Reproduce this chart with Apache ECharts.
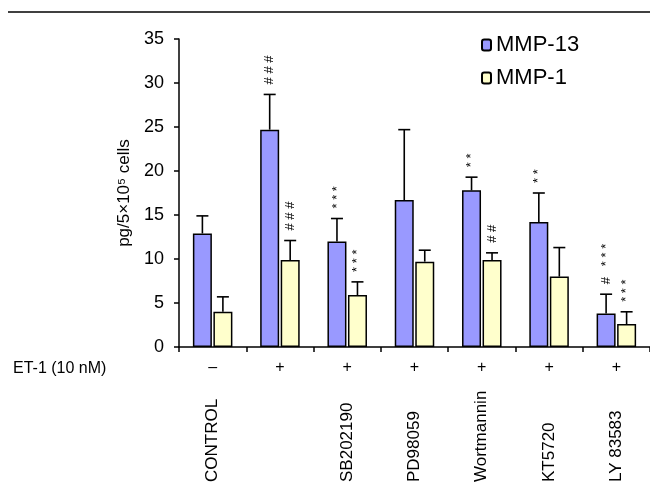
<!DOCTYPE html>
<html>
<head>
<meta charset="utf-8">
<script src="https://cdn.jsdelivr.net/npm/echarts@6/dist/echarts.min.js"></script>
<style>
html,body{margin:0;padding:0;background:#fff;}
#chart{width:650px;height:485px;}
</style>
</head>
<body>
<div id="chart"></div>
<script>
// ---- data ----
const categories = ['CONTROL', '', 'SB202190', 'PD98059', 'Wortmannin', 'KT5720', 'LY 83583'];
const et1Signs = ['\u2013', '+', '+', '+', '+', '+', '+'];
const mmp13 = [12.9, 24.7, 12.0, 16.7, 17.8, 14.2, 3.8];
const mmp13Err = [2.0, 4.0, 2.6, 8.0, 1.5, 3.3, 2.2];
const mmp1 = [4.0, 9.9, 5.9, 9.7, 9.9, 8.0, 2.6];
const mmp1Err = [1.7, 2.2, 1.5, 1.3, 0.8, 3.3, 1.4];
const mmp13Marks = ['', '# # #', '* * *', '', '* *', '* *', '#   * * *'];
const mmp1Marks = ['', '# # #', '* * *', '', '# #', '', '* * *'];
const yTicks = {min: 0, max: 35, interval: 5};

const FONT = '"Liberation Sans", Arial, Helvetica, sans-serif';
const BAR_W = 19;
const HALF_STEP = 10.25;

function errRenderer(marks, side) {
  return function (params, api) {
    const i = api.value(0), v = api.value(1), e = api.value(2);
    const base = api.coord([i, v]);
    const top = api.coord([i, v + e]);
    const x = base[0] + side * HALF_STEP;
    const children = [
      {type: 'line', shape: {x1: x, y1: base[1], x2: x, y2: top[1]},
       style: {stroke: '#000', lineWidth: 1.6}},
      {type: 'line', shape: {x1: x - 6, y1: top[1], x2: x + 6, y2: top[1]},
       style: {stroke: '#000', lineWidth: 1.6}}
    ];
    const m = marks[i];
    if (m) {
      children.push({
        type: 'text', x: x, y: top[1] - 10, rotation: Math.PI / 2,
        style: {text: m, fill: '#000', font: '13px ' + FONT,
                align: 'left', verticalAlign: 'middle'}
      });
    }
    return {type: 'group', children: children};
  };
}

const chart = echarts.init(document.getElementById('chart'), null, {renderer: 'canvas'});
chart.setOption({
  animation: false,
  backgroundColor: '#fff',
  textStyle: {fontFamily: FONT},
  grid: {left: 179, top: 39, width: 474, height: 310},
  legend: {
    orient: 'vertical', left: 481, top: 34, padding: 0, itemWidth: 9, itemHeight: 11, itemGap: 11,
    data: ['MMP-13', 'MMP-1'],
    textStyle: {fontSize: 22, color: '#000', fontFamily: FONT}
  },
  xAxis: [{
    type: 'category', data: categories, position: 'bottom',
    axisLine: {lineStyle: {color: '#000', width: 1.5}},
    axisTick: {show: true, length: 5, lineStyle: {color: '#000', width: 1.5}},
    axisLabel: {
      margin: 13, fontSize: 16, color: '#000', fontFamily: FONT, interval: 0,
      formatter: function (val, idx) { return et1Signs[idx]; }
    }
  }, {
    type: 'category', data: categories, position: 'bottom',
    axisLine: {show: false}, axisTick: {show: false},
    axisLabel: {
      rotate: 90, margin: 135, fontSize: 17, color: '#000', fontFamily: FONT, interval: 0,
      align: 'left', verticalAlign: 'middle'
    }
  }],
  yAxis: {
    type: 'value', min: yTicks.min, max: yTicks.max, interval: yTicks.interval,
    name: 'pg/5\u00d710\u2075 cells', nameLocation: 'middle', nameGap: 45,
    nameTextStyle: {fontSize: 17, color: '#000', fontFamily: FONT},
    axisLine: {show: true, lineStyle: {color: '#000', width: 1.5}},
    axisTick: {show: true, length: 5, lineStyle: {color: '#000', width: 1.5}},
    axisLabel: {fontSize: 18, color: '#000', margin: 15, fontFamily: FONT},
    splitLine: {show: false}
  },
  series: [{
    name: 'MMP-13', type: 'bar', data: mmp13, barWidth: BAR_W, barGap: '8%',
    itemStyle: {color: '#9999FF', borderColor: '#000', borderWidth: 1.5}
  }, {
    name: 'MMP-1', type: 'bar', data: mmp1, barWidth: BAR_W, barGap: '8%',
    itemStyle: {color: '#FFFFCC', borderColor: '#000', borderWidth: 1.5}
  }, {
    type: 'custom', z: 5, silent: true,
    renderItem: errRenderer(mmp13Marks, -1),
    data: mmp13.map(function (v, i) { return [i, v, mmp13Err[i]]; })
  }, {
    type: 'custom', z: 5, silent: true,
    renderItem: errRenderer(mmp1Marks, 1),
    data: mmp1.map(function (v, i) { return [i, v, mmp1Err[i]]; })
  }],
  graphic: [
    {type: 'line', shape: {x1: 8, y1: 12, x2: 650, y2: 12}, style: {stroke: '#000', lineWidth: 1.5}},
    {type: 'text', left: 13, top: 361, style: {text: 'ET-1 (10 nM)', fill: '#000', font: '16px ' + FONT}}
  ]
});
</script>
</body>
</html>
